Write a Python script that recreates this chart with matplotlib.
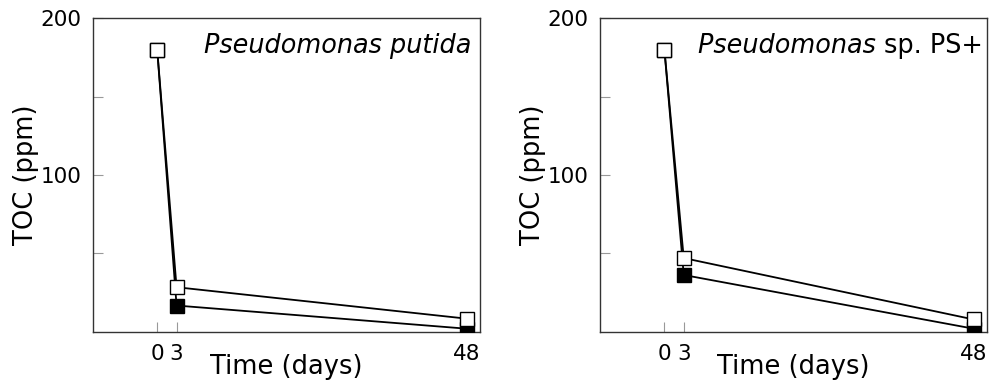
import matplotlib
matplotlib.use('Agg')
import matplotlib.pyplot as plt
from matplotlib.ticker import FixedLocator

# sampling days
days = [0, 3, 48]

# TOC (ppm), open squares / filled squares
putida_open = [180, 28.4, 8.3]
putida_filled = [180, 16.7, 1.9]
ps_open = [180, 47.0, 7.8]
ps_filled = [180, 36.2, 1.9]

plt.rcParams['font.family'] = ['DejaVu Sans']

fig = plt.figure(figsize=(9.92, 3.84), dpi=100)
ax1 = fig.add_axes([0.0934, 0.1362, 0.3904, 0.816])
ax2 = fig.add_axes([0.6048, 0.1362, 0.3898, 0.816])


def style_axes(ax):
    ax.set_xlim(-10, 50)
    ax.set_ylim(0, 200)
    ax.set_xticks(days)
    ax.set_xticklabels([str(d) for d in days])
    ax.set_yticks([100, 200])
    ax.yaxis.set_minor_locator(FixedLocator([50, 150]))
    ax.tick_params(axis='both', which='both', direction='in', color='#999999',
                   length=7, width=0.8, labelsize=15.5)
    ax.tick_params(axis='x', pad=9)
    ax.tick_params(axis='y', pad=8)
    for sp in ax.spines.values():
        sp.set_color('#333333')
        sp.set_linewidth(1.0)
    ax.set_xlabel('Time (days)', fontsize=18.5, va='center')
    ax.xaxis.set_label_coords(0.5, -0.113)
    ax.set_ylabel('TOC (ppm)', fontsize=18.5, va='center')
    ax.yaxis.set_label_coords(-0.173, 0.5)


def draw_series(ax, filled, empty):
    ax.plot(days, filled, color='black', lw=1.3, marker='s', markersize=9.5,
            markerfacecolor='black', markeredgecolor='black', markeredgewidth=1.0, zorder=3)
    ax.plot(days, empty, color='black', lw=1.3, marker='s', markersize=9.5,
            markerfacecolor='white', markeredgecolor='black', markeredgewidth=1.0, zorder=4)


draw_series(ax1, putida_filled, putida_open)
draw_series(ax2, ps_filled, ps_open)
style_axes(ax1)
style_axes(ax2)

ax1.annotate('Pseudomonas putida', xy=(1, 1), xycoords='axes fraction',
             xytext=(-6, -20), textcoords='offset points', ha='right', va='center',
             fontsize=18.4, style='italic')

t = ax2.annotate('sp. PS+', xy=(1, 1), xycoords='axes fraction',
                 xytext=(-3, -20), textcoords='offset points', ha='right', va='center',
                 fontsize=18.4)
ax2.annotate('Pseudomonas ', xy=(0, 0.5), xycoords=t, ha='right', va='center',
             fontsize=18.4, style='italic')

fig.savefig('out.png', dpi=100)
